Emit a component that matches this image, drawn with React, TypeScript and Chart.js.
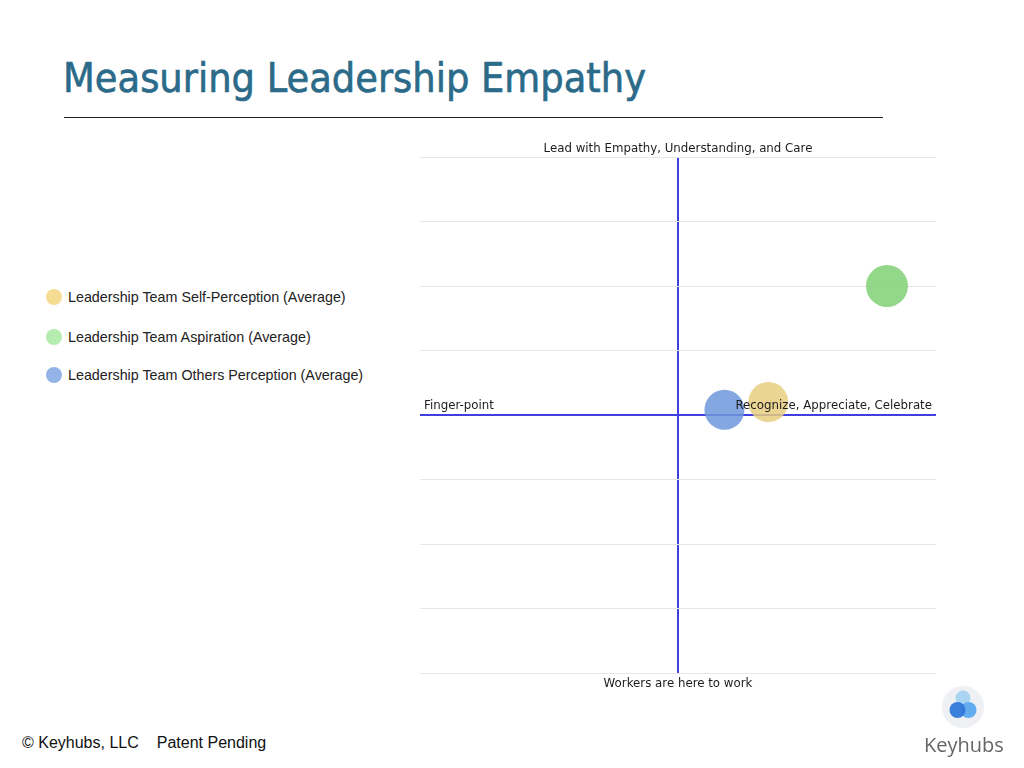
import React, { useEffect, useRef } from "react";
import { Chart, registerables } from "chart.js";

Chart.register(...registerables);

const seriesLabels = [
  "Leadership Team Self-Perception (Average)",
  "Leadership Team Aspiration (Average)",
  "Leadership Team Others Perception (Average)",
];
const bubbleColors = ["rgba(232, 206, 128, 0.85)", "rgba(128, 208, 118, 0.85)", "rgba(110, 152, 220, 0.85)"];
const legendColors = ["#f6dc92", "#b5ecb0", "#94b3e6"];
const xValues = [35, 81, 18];
const yValues = [5, 50, 2];
const radii = [20, 21, 20];

const topLabel = "Lead with Empathy, Understanding, and Care";
const bottomLabel = "Workers are here to work";
const leftLabel = "Finger-point";
const rightLabel = "Recognize, Appreciate, Celebrate";

const quadrantLabels = {
  id: "quadrantLabels",
  afterDatasetsDraw(chart: Chart) {
    const { ctx, chartArea } = chart;
    const yScale = chart.scales.y;
    const midX = (chartArea.left + chartArea.right) / 2;
    const zeroY = yScale.getPixelForValue(0);
    ctx.save();
    ctx.fillStyle = "#1c1c1c";
    ctx.font = "11.8px 'DejaVu Sans'";
    ctx.textBaseline = "middle";
    ctx.textAlign = "center";
    ctx.fillText(topLabel, midX, chartArea.top - 8);
    ctx.fillText(bottomLabel, midX, chartArea.bottom + 11);
    ctx.textAlign = "left";
    ctx.fillText(leftLabel, chartArea.left + 4, zeroY - 9);
    ctx.textAlign = "right";
    ctx.fillText(rightLabel, chartArea.right - 4, zeroY - 9);
    ctx.restore();
  },
};

const EmpathyChart: React.FC = () => {
  const chartRef = useRef<HTMLCanvasElement | null>(null);

  useEffect(() => {
    if (!chartRef.current) return;
    const chart = new Chart(chartRef.current, {
      type: "bubble",
      data: {
        datasets: seriesLabels.map((label, i) => ({
          label,
          data: [{ x: xValues[i], y: yValues[i], r: radii[i] }],
          backgroundColor: bubbleColors[i],
          borderWidth: 0,
        })),
      },
      options: {
        responsive: true,
        maintainAspectRatio: false,
        animation: false,
        layout: { padding: { left: 0, right: 0, top: 27, bottom: 27 } },
        plugins: {
          legend: { display: false },
          tooltip: { enabled: false },
        },
        scales: {
          x: {
            min: -100,
            max: 100,
            ticks: { display: false, stepSize: 25 },
            border: { display: false },
            grid: {
              drawTicks: false,
              color: (c: any) => (c.tick && c.tick.value === 0 ? "#4040e2" : "rgba(0,0,0,0)"),
              lineWidth: (c: any) => (c.tick && c.tick.value === 0 ? 2 : 1),
            },
          },
          y: {
            min: -100,
            max: 100,
            ticks: { display: false, stepSize: 25 },
            border: { display: false },
            grid: {
              drawTicks: false,
              color: (c: any) => (c.tick && c.tick.value === 0 ? "#4040e2" : "#e6e6e6"),
              lineWidth: (c: any) => (c.tick && c.tick.value === 0 ? 2 : 1),
            },
          },
        },
      },
      plugins: [quadrantLabels],
    });
    return () => {
      chart.destroy();
    };
  }, []);

  return <canvas ref={chartRef} />;
};

const App: React.FC = () => {
  useEffect(() => {
    document.body.style.margin = "0";
  }, []);

  return (
    <div style={{ position: "relative", width: 1024, height: 768, background: "#fff", overflow: "hidden" }}>
      <div
        style={{
          position: "absolute",
          left: 63,
          top: 54,
          fontFamily: "'DejaVu Sans Condensed', 'DejaVu Sans', sans-serif",
          fontSize: 41,
          color: "#2b6a89",
          whiteSpace: "nowrap",
          WebkitTextStroke: "0.6px #2b6a89",
        }}
      >
        Measuring Leadership Empathy
      </div>
      <div style={{ position: "absolute", left: 64, top: 117, width: 819, height: 1, background: "#222" }} />

      <div style={{ position: "absolute", left: 46, top: 287, fontFamily: "'Liberation Sans', Arial, sans-serif", fontSize: 14.3, color: "#222" }}>
        {seriesLabels.map((label, i) => (
          <div key={label} style={{ display: "flex", alignItems: "center", height: 20, marginBottom: i === 0 ? 19.5 : 18 }}>
            <span style={{ width: 16, height: 16, borderRadius: 8, background: legendColors[i], marginRight: 6 }} />
            {label}
          </div>
        ))}
      </div>

      <div style={{ position: "absolute", left: 399, top: 130, width: 558, height: 570 }}>
        <EmpathyChart />
      </div>

      <div style={{ position: "absolute", left: 22, top: 734, fontFamily: "'Liberation Sans', Arial, sans-serif", fontSize: 16, color: "#111", whiteSpace: "nowrap" }}>
        © Keyhubs, LLC<span style={{ marginLeft: 18 }}>Patent Pending</span>
      </div>

      <svg style={{ position: "absolute", left: 940, top: 684 }} width={46} height={46}>
        <circle cx={23} cy={23} r={21} fill="#eef0f4" />
        <circle cx={23} cy={14} r={7.5} fill="#a9d5f2" />
        <circle cx={28.5} cy={26} r={8} fill="#62acef" />
        <circle cx={17.5} cy={26} r={8} fill="#2f78d8" opacity={0.95} />
      </svg>
      <div style={{ position: "absolute", left: 924, top: 731, fontFamily: "'Open Sans', sans-serif", fontSize: 20, color: "#666" }}>
        Keyhubs
      </div>
    </div>
  );
};

export default App;
